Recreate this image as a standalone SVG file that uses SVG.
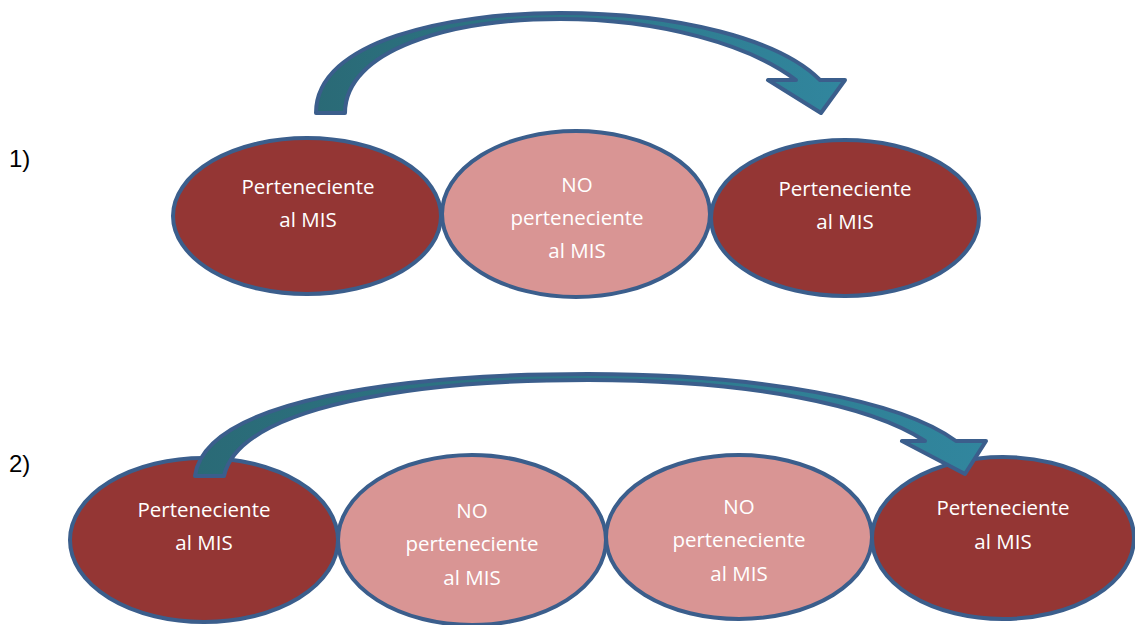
<svg xmlns="http://www.w3.org/2000/svg" width="1135" height="625" viewBox="0 0 1135 625">
<defs>
<linearGradient id="ag1" x1="0" y1="0" x2="1" y2="0">
<stop offset="0" stop-color="#2a6a76"/>
<stop offset="1" stop-color="#31869e"/>
</linearGradient>
<style>
.dark{fill:#943634;stroke:#3b5e8c;stroke-width:4}
.light{fill:#d99594;stroke:#3b5e8c;stroke-width:4}
.arr{fill:url(#ag1);stroke:#3b5e8c;stroke-width:4;stroke-linejoin:round}
.t{font-family:"Open Sans",sans-serif;font-size:20.5px;fill:#ffffff;text-anchor:middle}
.lbl{font-family:"Liberation Sans",Arial,sans-serif;font-size:24px;fill:#000000}
</style>
</defs>
<rect width="1135" height="625" fill="#ffffff"/>
<text class="lbl" x="9" y="167">1)</text>
<text class="lbl" x="9" y="472">2)</text>
<g id="r1n1"><ellipse class="dark" cx="307" cy="216" rx="134" ry="78"/><text class="t" x="308" y="194">Perteneciente</text><text class="t" x="308" y="227">al MIS</text></g>
<g id="r1n2"><ellipse class="light" cx="576" cy="214" rx="134" ry="83"/><text class="t" x="577" y="192">NO</text><text class="t" x="577" y="225">perteneciente</text><text class="t" x="577" y="258">al MIS</text></g>
<g id="r1n3"><ellipse class="dark" cx="845" cy="218" rx="134" ry="78"/><text class="t" x="845" y="196">Perteneciente</text><text class="t" x="845" y="229">al MIS</text></g>
<g id="r2n1"><ellipse class="dark" cx="204" cy="540" rx="134" ry="82"/><text class="t" x="204" y="517">Perteneciente</text><text class="t" x="204" y="550">al MIS</text></g>
<g id="r2n2"><ellipse class="light" cx="472" cy="540" rx="134" ry="85"/><text class="t" x="472" y="518">NO</text><text class="t" x="472" y="551">perteneciente</text><text class="t" x="472" y="585">al MIS</text></g>
<g id="r2n3"><ellipse class="light" cx="739" cy="537" rx="133" ry="82"/><text class="t" x="739" y="514">NO</text><text class="t" x="739" y="547">perteneciente</text><text class="t" x="739" y="581">al MIS</text></g>
<g id="r2n4"><ellipse class="dark" cx="1003" cy="538" rx="131" ry="81"/><text class="t" x="1003" y="515">Perteneciente</text><text class="t" x="1003" y="549">al MIS</text></g>
<g id="connectors">
<path class="arr" d="M316,113 C316,40 450,13 560,13 C680,13 780,40 820,80 L845,80 L821,113 L768,80 L796,80 C750,45 660,19 560,19 C450,19 345,50 345,113 Z"/>
<path class="arr" d="M195,476 C205,400 400,374 588,374 C760,374 900,400 956,441 L986,441 L965,474 L902,441 L925,441 C870,405 750,380 588,380 C420,380 240,405 224,476 Z"/>
</g>
</svg>
